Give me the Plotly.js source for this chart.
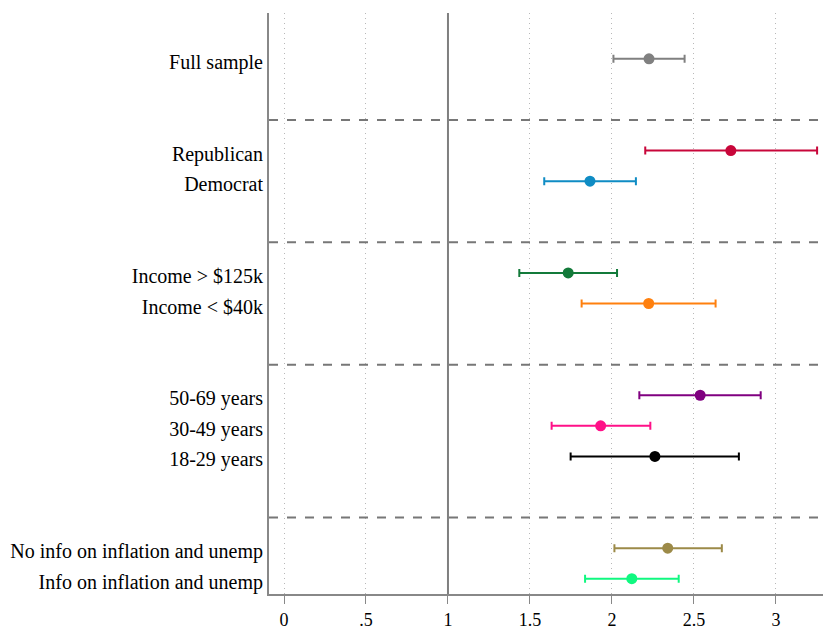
<!DOCTYPE html>
<html>
<head>
<meta charset="utf-8">
<script src="https://cdn.plot.ly/plotly-3.0.1.min.js"></script>
<style>html,body{margin:0;padding:0;background:#fff;}#chart{width:823px;height:629px;}</style>
</head>
<body>
<div id="chart"></div>
<script>
// Groups of rows (top to bottom)
const groups = [
  ["Full sample"],
  ["Republican", "Democrat"],
  ["Income > $125k", "Income < $40k"],
  ["50-69 years", "30-49 years", "18-29 years"],
  ["No info on inflation and unemp", "Info on inflation and unemp"]
];
const labels = ["Full sample", "Republican", "Democrat", "Income > $125k", "Income < $40k",
  "50-69 years", "30-49 years", "18-29 years",
  "No info on inflation and unemp", "Info on inflation and unemp"];
const estimate = [2.226, 2.725, 1.866, 1.733, 2.224, 2.538, 1.931, 2.262, 2.340, 2.121];
const ciLow    = [2.009, 2.203, 1.587, 1.435, 1.815, 2.167, 1.632, 1.748, 2.015, 1.836];
const ciHigh   = [2.443, 3.251, 2.146, 2.031, 2.632, 2.907, 2.234, 2.774, 2.670, 2.407];
const colors = ["#808080", "#c8063a", "#0f8cc4", "#137a3a", "#ff800e",
  "#800080", "#ff1088", "#000000", "#9c8a48", "#10f880"];
const xTickVals = [0, 0.5, 1, 1.5, 2, 2.5, 3];
const xTickText = ["0", ".5", "1", "1.5", "2", "2.5", "3"];

// row positions from group structure
const rowPos = {};
const sepPos = [];
let r = 0;
groups.forEach((g, gi) => {
  g.forEach(lbl => { rowPos[lbl] = r; r += 1; });
  if (gi < groups.length - 1) { sepPos.push(r + 1); r += 2; }
});

const traces = labels.map((lbl, i) => ({
  type: "scatter",
  mode: "markers",
  x: [estimate[i]],
  y: [rowPos[lbl]],
  marker: {color: colors[i], size: 11},
  error_x: {
    type: "data", symmetric: false,
    array: [ciHigh[i] - estimate[i]],
    arrayminus: [estimate[i] - ciLow[i]],
    color: colors[i], thickness: 2, width: 4
  },
  showlegend: false,
  hoverinfo: "x+y"
}));

const shapes = sepPos.map(p => ({
  type: "line", xref: "paper", x0: 0, x1: 1, yref: "y", y0: p, y1: p,
  line: {color: "#777777", width: 2, dash: "dash"}
}));
shapes.push({
  type: "line", xref: "x", x0: 1, x1: 1, yref: "paper", y0: 0, y1: 1,
  line: {color: "#7f7f7f", width: 2}
});

const layout = {
  width: 823, height: 629,
  margin: {l: 269, r: 0, t: 13, b: 35},
  paper_bgcolor: "#ffffff", plot_bgcolor: "#ffffff",
  font: {family: "Liberation Serif, Times New Roman, serif", color: "#000000"},
  xaxis: {
    range: [-0.0915, 3.287],
    tickvals: xTickVals, ticktext: xTickText,
    tickfont: {size: 18, color: "#000"},
    ticks: "outside", ticklen: 8, tickwidth: 1, tickcolor: "#888888",
    showgrid: true, gridcolor: "#b8b8b8", gridwidth: 1, griddash: "1px,4px",
    zeroline: false,
    showline: true, linecolor: "#888888", linewidth: 2,
    ticklabelstandoff: 0
  },
  yaxis: {
    range: [17.5, -1.5],
    tickvals: labels.map(l => rowPos[l]), ticktext: labels,
    tickfont: {size: 20, color: "#000"},
    ticks: "", showgrid: false, zeroline: false,
    showline: true, linecolor: "#888888", linewidth: 2,
    ticklabelstandoff: 0,
    ticklabelshift: -3
  },
  shapes: shapes
};

Plotly.newPlot("chart", traces, layout, {displayModeBar: false, staticPlot: true});
</script>
</body>
</html>
